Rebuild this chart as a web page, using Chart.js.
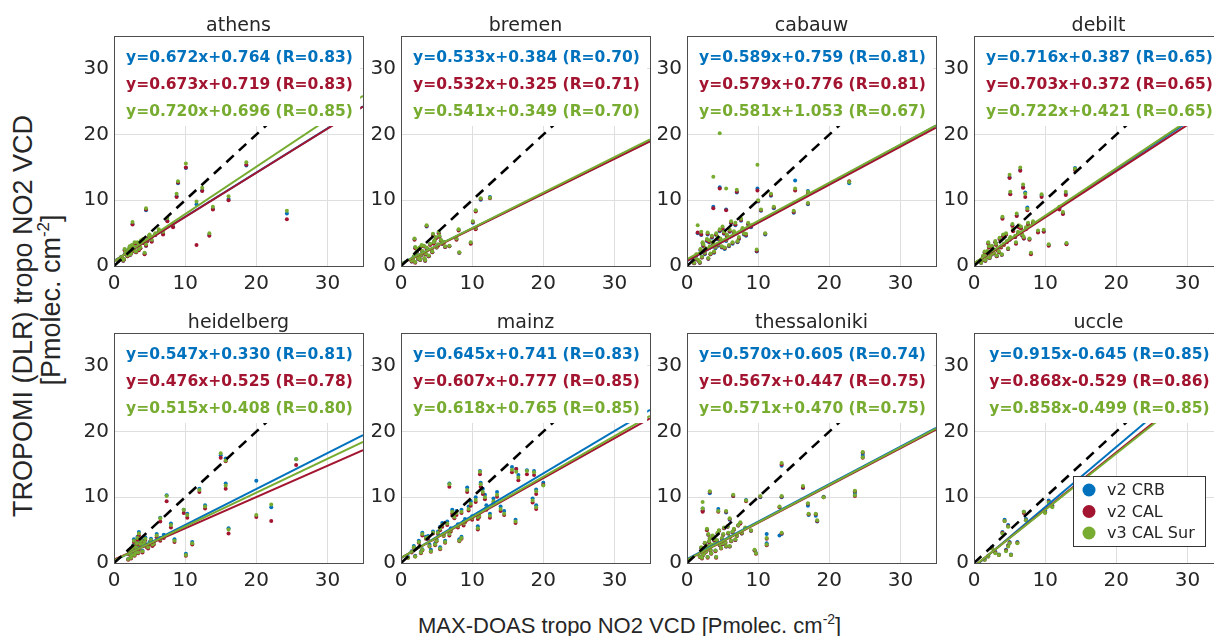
<!DOCTYPE html>
<html>
<head>
<meta charset="utf-8">
<script src="https://cdn.jsdelivr.net/npm/chart.js@4.4.0/dist/chart.umd.min.js"></script>
<style>
body { margin:0; width:1214px; height:636px; overflow:hidden; background:#fff; position:relative; }
canvas { position:absolute; }
.lab { position:absolute; font-family:"Liberation Sans", Arial, sans-serif; font-size:22px; color:#262626; white-space:nowrap; line-height:1; }
.lab sup { font-size:14px; vertical-align:9px; }
.big { font-size:27px; }
.big sup { font-size:17px; vertical-align:11px; }
.rot { transform:translate(-50%,-50%) rotate(-90deg); }
</style>
</head>
<body>
<div class="lab big rot" style="left:23px;top:316px">TROPOMI (DLR) tropo NO2 VCD</div>
<div class="lab big rot" style="left:50px;top:300px">[Pmolec. cm<sup>-2</sup>]</div>
<div class="lab" style="left:418px;top:612px">MAX-DOAS tropo NO2 VCD [Pmolec. cm<sup>-2</sup>]</div>
<script>
// stations and series
var stations = ['athens','bremen','cabauw','debilt','heidelberg','mainz','thessaloniki','uccle'];
var seriesNames = ['v2 CRB','v2 CAL','v3 CAL Sur'];
var seriesColors = ['#0072BD','#A2142F','#77AC30'];
var tickVals = [0,10,20,30];
var axisMax = 35;

// regression fits
var slopeCrb = [0.672,0.533,0.589,0.716,0.547,0.645,0.570,0.915];
var icptCrb  = [0.764,0.384,0.759,0.387,0.330,0.741,0.605,-0.645];
var rCrb     = [0.83,0.70,0.81,0.65,0.81,0.83,0.74,0.85];
var slopeCal = [0.673,0.532,0.579,0.703,0.476,0.607,0.567,0.868];
var icptCal  = [0.719,0.325,0.776,0.372,0.525,0.777,0.447,-0.529];
var rCal     = [0.83,0.71,0.81,0.65,0.78,0.85,0.75,0.86];
var slopeSur = [0.720,0.541,0.581,0.722,0.515,0.618,0.571,0.858];
var icptSur  = [0.696,0.349,1.053,0.421,0.408,0.765,0.470,-0.499];
var rSur     = [0.85,0.70,0.67,0.65,0.80,0.85,0.75,0.85];

// MAX-DOAS values (x) per station
var ptsX = [
 [0.6,1.0,1.3,1.6,1.9,2.1,2.4,2.7,3.0,3.3,3.7,4.1,4.5,4.9,5.3,5.8,6.3,6.9,7.5,8.3,8.8,9.0,10.1,11.6,12.4,13.4,13.9,16.1,18.6,24.3,2.6,4.5,4.3,2.2,
  1.1,1.4,1.7,2.0,2.3,2.5,2.8,3.1,3.4,3.8,4.2,4.7,5.0,1.5,2.9,3.5],
 [1.5,1.8,2.0,2.2,2.4,2.6,2.8,3.0,3.2,3.5,3.8,4.1,4.4,4.7,5.0,5.4,5.8,6.2,6.8,7.8,8.1,8.2,9.8,10.1,10.5,10.5,11.2,12.5,3.6,1.9,5.3,2.7,
  1.7,2.1,2.3,2.5,2.9,3.1,3.3,3.6,3.9,4.3,4.6,4.9,5.2,5.6,6.0,2.0,3.4,4.5],
 [1.0,1.3,1.6,1.9,2.1,2.3,2.5,2.8,3.0,3.2,3.5,3.8,4.1,4.4,4.7,5.0,5.3,5.6,6.0,6.4,6.8,7.3,7.8,8.3,9.0,9.8,10.0,10.4,11.0,11.8,12.2,15.0,15.2,17.0,17.0,22.8,4.6,3.7,9.9,7.0,5.5,1.5,
  1.2,1.8,2.2,2.6,2.9,3.3,3.6,4.0,4.3,4.6,4.9,5.2,5.5,5.9,6.2,6.6,7.1,7.6,8.0,8.6,2.0,3.1],
 [1.0,1.3,1.6,1.9,2.2,2.5,2.8,3.0,3.3,3.6,3.9,4.2,4.5,4.8,5.1,5.5,5.9,6.3,6.8,7.3,7.8,8.3,9.0,6.5,5.0,6.9,5.1,7.2,14.2,9.5,12.9,12.0,12.5,13.0,10.5,9.8,8.0,4.0,7.5,6.0,
  1.2,1.5,1.8,2.1,2.4,2.7,3.1,3.5,3.8,4.1,4.6,5.0,5.4,5.8,6.2,6.6,7.0,7.6,2.0,3.2],
 [2.0,2.3,2.5,2.7,3.0,3.2,3.5,3.8,4.1,4.4,4.8,5.2,5.6,6.0,6.5,7.0,8.0,8.5,9.8,10.1,11.0,12.0,12.8,15.0,15.7,15.7,20.0,22.1,25.6,16.1,7.4,10.3,3.5,6.5,
  2.1,2.4,2.6,2.9,3.1,3.4,3.7,4.0,4.3,4.6,5.0,5.4,2.8,3.3],
 [1.0,1.5,2.0,2.5,3.0,3.5,4.0,4.5,5.0,5.5,6.0,6.5,7.0,7.5,8.0,8.5,9.0,9.5,10.0,10.5,11.0,11.5,12.0,13.0,14.0,14.5,15.6,16.2,17.7,18.7,16.5,20.0,19.0,18.5,19.0,16.1,6.8,11.1,11.2,9.3,5.5,3.0,8.5,10.8,
  1.8,2.8,3.8,4.8,5.8,6.8,7.8,8.8,9.8,10.8,11.8,4.2,5.2,6.2,7.2,8.2,12.5,13.5],
 [1.8,2.0,2.3,2.5,2.7,3.0,3.2,3.4,3.6,3.9,4.2,4.5,4.8,5.1,5.4,5.7,6.0,6.4,6.8,7.2,7.7,8.2,9.0,9.7,24.7,24.7,23.6,23.6,19.2,16.3,17.0,17.1,18.1,18.3,13.3,13.3,13.0,10.3,11.2,11.2,13.3,3.2,2.2,2.2,4.4,6.5,8.3,5.5,6.0,9.5,
  2.1,2.4,2.6,2.9,3.1,3.3,3.5,3.8,4.0,4.3,4.6,4.9,5.2,5.5,5.8,6.2,6.6,7.0,7.5,3.0,4.1,5.0,6.0,2.8],
 [1.5,2.0,2.5,3.0,3.5,4.0,4.3,4.5,4.8,4.8,5.0,5.2,6.1,7.0,7.3,10.0,10.5,11.0]
];
// TROPOMI v2 CRB
var ptsCrb = [
 [0.8,1.3,0.8,1.9,1.5,2.4,1.9,2.8,2.2,3.4,2.7,3.9,3.1,4.4,3.8,4.7,5.3,4.9,6.9,6.0,10.6,12.6,14.9,9.4,11.5,4.7,8.7,10.2,15.3,8.0,6.4,8.5,1.9,2.8,
  1.2,1.0,1.8,2.3,1.7,3.0,2.4,2.1,2.9,3.7,3.5,3.8,4.6,2.5,3.4,2.5],
 [0.7,1.4,0.6,2.1,1.1,2.7,1.6,2.2,3.0,1.8,2.5,3.3,2.1,3.8,2.8,4.5,3.4,2.9,3.0,4.1,5.5,2.0,3.5,6.6,5.7,8.4,10.1,10.5,6.0,4.1,5.1,0.9,
  0.9,1.7,2.5,1.3,3.1,1.9,1.1,2.7,1.5,2.4,3.5,4.3,3.2,3.9,3.6,2.8,0.8,4.8],
 [0.4,1.6,0.8,2.4,1.3,3.0,1.8,3.8,1.1,2.8,4.3,2.0,4.7,3.1,4.0,5.6,2.6,4.5,5.2,3.4,6.2,4.1,5.5,4.6,5.9,2.2,9.8,8.4,4.8,10.7,8.8,8.1,13.0,11.4,9.4,12.6,12.0,9.0,11.8,11.2,8.6,5.0,
  1.1,0.5,3.4,2.5,4.8,1.8,3.4,2.7,4.1,5.3,2.8,4.9,3.8,3.0,6.5,5.0,3.6,6.9,4.8,6.3,4.7,3.6],
 [0.5,1.5,0.8,2.2,1.2,3.0,1.9,3.6,2.5,4.1,1.7,3.3,4.8,2.6,4.2,5.4,3.5,6.0,4.6,5.7,4.1,6.6,5.2,14.6,13.5,12.0,11.0,11.2,14.9,10.7,11.0,8.8,8.0,3.4,3.2,5.3,1.9,7.3,8.9,7.7,
  0.9,2.1,1.3,2.9,1.7,2.5,3.3,2.1,2.9,4.6,3.7,4.0,6.2,4.4,5.0,5.8,4.2,6.4,3.5,1.5],
 [0.6,1.9,1.3,2.7,1.7,3.1,2.3,3.6,2.9,3.9,2.5,3.7,3.2,4.4,3.8,4.3,6.0,3.6,8.1,1.4,3.2,11.3,8.8,16.4,15.9,12.1,12.5,8.5,15.8,5.3,10.3,7.5,4.7,6.9,
  1.5,0.9,2.1,1.3,2.5,1.7,3.0,1.9,3.4,2.8,3.2,3.0,3.6,4.0],
 [0.9,1.8,1.1,3.4,2.1,4.0,2.8,4.8,3.6,5.5,4.4,6.3,5.3,7.3,5.9,8.1,6.7,8.6,7.1,10.0,7.6,11.3,8.8,9.8,8.6,7.9,14.6,14.3,14.1,14.0,13.4,12.2,11.2,9.8,8.8,6.6,12.1,14.0,12.2,11.5,2.4,4.6,4.0,5.6,
  2.6,1.7,4.1,3.0,6.1,4.6,7.9,6.3,9.4,7.3,10.4,2.0,4.8,3.4,8.1,3.6,7.5,10.8],
 [1.0,2.3,1.3,3.0,1.8,2.6,3.7,1.5,4.1,2.9,3.4,4.9,2.3,4.3,3.1,5.5,3.9,4.7,3.5,5.7,4.5,5.3,4.9,1.5,16.6,16.3,10.5,10.8,10.1,11.4,8.7,7.3,7.2,6.3,14.8,10.0,4.2,10.0,4.4,3.0,4.4,10.6,8.3,7.9,8.2,10.2,9.6,7.7,6.6,1.9,
  0.8,1.6,2.1,0.9,3.2,2.0,2.7,3.5,1.9,4.5,2.7,3.7,5.3,2.5,4.5,3.3,5.1,4.1,6.1,4.3,0.9,2.9,2.5,5.1],
 [0.6,1.1,2.4,1.7,1.3,4.7,6.6,2.0,5.8,2.7,3.2,1.3,3.2,7.8,6.7,8.0,9.5,8.8]
];
// TROPOMI v2 CAL
var ptsCal = [
 [0.8,1.3,0.8,1.9,1.5,2.4,1.9,2.8,2.2,3.4,2.7,3.8,3.1,4.3,3.7,4.7,5.2,4.8,6.8,5.9,10.5,12.7,15.0,3.2,11.4,4.6,8.6,10.0,15.4,7.1,6.3,8.6,1.8,2.7,
  1.2,1.0,1.8,2.2,1.7,3.0,2.3,2.1,2.9,3.6,3.5,3.8,4.5,2.4,3.4,2.4],
 [0.7,1.4,0.5,2.1,1.1,2.6,1.6,2.2,3.0,1.8,2.5,3.2,2.1,3.7,2.8,4.4,3.4,2.9,3.0,4.0,5.4,2.0,3.4,6.7,5.6,8.3,10.2,10.3,6.1,4.0,5.0,0.9,
  0.9,1.7,2.4,1.3,3.0,1.9,1.1,2.6,1.5,2.4,3.4,4.2,3.1,3.8,3.5,2.7,0.8,4.7],
 [0.4,1.6,0.8,2.5,1.3,3.1,1.9,3.9,1.1,2.9,4.4,2.1,4.8,3.2,4.0,5.7,2.7,4.6,5.3,3.5,6.3,4.2,5.6,4.7,6.0,2.3,9.9,8.5,4.9,10.8,8.9,8.2,11.5,11.1,9.5,12.9,11.8,8.8,11.5,11.3,8.5,5.1,
  1.1,0.5,3.5,2.6,4.9,1.8,3.5,2.8,4.2,5.4,2.9,5.0,3.9,3.1,6.6,5.1,3.7,7.0,4.9,6.4,4.8,3.7],
 [0.5,1.5,0.8,2.2,1.2,2.9,1.9,3.6,2.4,4.1,1.7,3.2,4.8,2.6,4.2,5.3,3.4,5.9,4.6,5.6,4.0,6.5,5.1,14.5,13.4,11.9,10.9,10.5,14.6,10.5,10.8,8.6,7.9,3.3,3.1,5.2,1.8,7.2,8.5,7.6,
  0.9,2.0,1.3,2.8,1.7,2.4,3.2,2.1,2.8,4.5,3.6,4.0,6.1,4.4,4.9,5.7,4.2,6.3,3.4,1.5],
 [0.5,1.6,1.1,2.4,1.5,2.8,2.0,3.2,2.6,3.5,2.2,3.3,2.8,3.9,3.4,3.8,5.4,3.2,7.6,1.1,2.8,10.8,8.3,16.0,15.5,11.3,7.0,6.4,14.9,4.5,9.4,6.9,4.2,6.3,
  1.3,0.7,1.8,1.1,2.2,1.5,2.7,1.6,3.0,2.4,2.8,2.6,3.2,3.5],
 [0.8,1.6,1.0,3.1,1.9,3.7,2.5,4.5,3.3,5.0,4.1,5.8,4.8,6.8,5.4,7.6,6.2,8.0,6.6,9.3,7.0,10.5,8.1,9.1,7.9,7.3,13.8,14.3,13.5,13.4,12.6,11.9,10.5,9.2,8.2,6.1,11.6,13.5,11.6,10.8,2.1,4.2,3.7,5.1,
  2.3,1.5,3.7,2.7,5.5,4.2,7.3,5.7,8.7,6.7,9.7,1.7,4.4,3.1,7.5,3.3,6.9,10.1],
 [0.9,2.3,1.2,3.0,1.7,2.5,3.7,1.4,4.1,2.8,3.4,4.9,2.2,4.3,3.1,5.5,3.9,4.7,3.5,5.7,4.5,5.3,4.9,1.4,16.8,16.0,10.2,10.9,10.0,11.5,9.0,7.4,7.4,6.4,15.0,10.1,8.5,10.1,3.7,2.7,4.5,10.8,8.0,7.8,7.8,10.2,9.4,7.8,6.7,1.9,
  0.7,1.5,2.1,0.8,3.2,1.9,2.7,3.5,1.8,4.5,2.7,3.7,5.3,2.5,4.5,3.3,5.1,4.1,6.0,4.3,0.8,2.9,2.5,5.0],
 [0.5,1.0,2.3,1.6,1.2,4.6,6.4,1.9,5.6,2.6,3.1,1.2,3.1,7.6,6.5,7.7,9.3,8.6]
];
// TROPOMI v3 CAL Sur
var ptsSur = [
 [0.9,1.4,0.9,2.0,1.6,2.6,2.0,3.0,2.3,3.6,2.9,4.1,3.3,4.6,4.0,5.0,5.6,5.2,7.3,6.4,11.0,12.9,15.6,9.8,11.9,5.0,9.0,10.6,15.8,8.4,6.7,8.8,2.0,3.0,
  1.3,1.1,1.9,2.4,1.8,3.2,2.5,2.2,3.1,3.9,3.7,4.0,4.8,2.6,3.6,2.6],
 [0.8,1.5,0.6,2.2,1.2,2.8,1.7,2.3,3.1,1.9,2.6,3.4,2.2,3.9,2.9,4.6,3.5,3.0,3.1,4.2,5.6,2.1,3.6,6.8,5.8,8.5,10.3,10.4,6.2,4.2,5.2,1.0,
  1.0,1.8,2.6,1.4,3.2,2.0,1.2,2.8,1.6,2.5,3.6,4.4,3.3,4.0,3.7,2.9,0.9,4.9],
 [0.5,1.8,0.9,2.6,1.4,3.3,2.0,4.1,1.2,3.0,4.6,2.2,5.0,3.3,4.2,6.0,2.8,4.8,5.5,3.6,6.6,4.4,5.8,4.9,6.2,2.5,10.0,8.6,5.0,11.0,9.0,8.4,11.8,11.3,9.6,12.8,20.2,13.6,15.4,11.6,11.8,6.2,
  1.2,0.6,3.6,2.7,5.1,1.9,3.6,2.9,4.4,5.6,3.0,5.2,4.0,3.2,6.8,5.3,3.8,7.2,5.0,6.6,5.2,3.9],
 [0.5,1.6,0.9,2.3,1.3,3.1,2.0,3.8,2.6,4.3,1.8,3.4,5.0,2.7,4.4,5.6,3.6,6.2,4.8,5.9,4.2,6.8,5.4,15.0,13.9,12.4,11.3,11.0,14.8,10.9,11.3,9.0,8.2,3.5,3.3,5.5,2.0,7.5,8.7,8.0,
  1.0,2.2,1.4,3.0,1.8,2.6,3.4,2.2,3.0,4.8,3.8,4.2,6.4,4.6,5.2,6.0,4.4,6.6,3.6,1.6],
 [0.6,1.8,1.2,2.6,1.6,3.0,2.2,3.4,2.8,3.7,2.4,3.5,3.0,4.2,3.6,4.0,5.8,3.4,8.1,1.2,3.0,11.1,8.6,16.7,15.6,11.8,7.3,8.9,15.8,5.1,10.2,7.3,4.5,6.8,
  1.4,0.8,2.0,1.2,2.4,1.6,2.9,1.8,3.2,2.6,3.0,2.8,3.4,3.8],
 [0.8,1.7,1.0,3.2,2.0,3.8,2.6,4.6,3.4,5.2,4.2,6.0,5.0,7.0,5.6,7.8,6.4,8.2,6.8,9.6,7.2,10.8,8.4,9.4,8.2,7.5,14.2,13.9,14.0,13.8,13.0,11.8,10.9,9.5,8.5,6.3,12.0,13.9,12.0,11.1,2.2,4.4,3.8,5.3,
  2.4,1.6,3.9,2.8,5.8,4.4,7.6,6.0,9.0,7.0,10.0,1.8,4.6,3.2,7.8,3.4,7.2,10.4],
 [1.0,2.4,1.3,3.1,1.8,2.6,3.8,1.5,4.2,2.9,3.5,5.0,2.3,4.4,3.2,5.6,4.0,4.8,3.6,5.8,4.6,5.4,5.0,1.5,16.9,16.1,10.3,11.0,10.0,11.7,9.1,7.5,7.5,6.5,15.2,10.2,8.6,10.2,3.8,2.8,4.6,10.9,9.3,8.3,7.9,10.4,9.5,7.9,6.8,2.0,
  0.8,1.6,2.2,0.9,3.3,2.0,2.8,3.6,1.9,4.6,2.8,3.8,5.4,2.6,4.6,3.4,5.2,4.2,6.2,4.4,0.9,3.0,2.6,5.2],
 [0.5,1.0,2.2,1.5,1.2,4.5,6.4,1.8,5.5,2.5,3.0,1.2,3.0,7.8,6.5,7.6,9.2,8.5]
];

// layout of the 2x4 grid (plot area in page pixels)
var colLeft = [114,401,687,974];
var rowTop = [36,333];
var plotW = 249, plotH = 230;
var padL = 44, padT = 34, padR = 6, padB = 32;
var textRows = [26,53,80];
var maskBottom = 21.3, maskRight = 34.6;

Chart.defaults.font.family = '"DejaVu Sans", Verdana, sans-serif';
Chart.defaults.color = '#262626';

function fitLabel(a, b, r){
	return 'y=' + a.toFixed(3) + 'x' + (b >= 0 ? '+' : '') + b.toFixed(3) + ' (R=' + r.toFixed(2) + ')';
}

var panelPlugin = {
	id: 'panel',
	afterDatasetsDraw: function(chart, args, opts){
		var ctx = chart.ctx, a = chart.chartArea;
		var xs = chart.scales.x, ys = chart.scales.y;
		var i = opts.idx;
		ctx.save();
		// white box behind the fit equations
		ctx.fillStyle = '#fff';
		var yb = ys.getPixelForValue(maskBottom);
		ctx.fillRect(a.left + 1, a.top + 1, xs.getPixelForValue(maskRight) - a.left - 1, yb - a.top - 1);
		ctx.font = 'bold 15.5px "DejaVu Sans"';
		ctx.textAlign = 'center';
		ctx.textBaseline = 'alphabetic';
		var cx = (a.left + a.right) / 2 + 1;
		var lines = [fitLabel(slopeCrb[i], icptCrb[i], rCrb[i]),
		             fitLabel(slopeCal[i], icptCal[i], rCal[i]),
		             fitLabel(slopeSur[i], icptSur[i], rSur[i])];
		for (var k = 0; k < 3; k++){
			ctx.fillStyle = seriesColors[k];
			ctx.fillText(lines[k], cx, a.top + textRows[k]);
		}
		ctx.restore();
	},
	afterDraw: function(chart, args, opts){
		var ctx = chart.ctx, a = chart.chartArea;
		ctx.save();
		ctx.strokeStyle = '#4d4d4d';
		ctx.lineWidth = 1;
		ctx.strokeRect(Math.round(a.left) + 0.5, Math.round(a.top) + 0.5, Math.round(a.right - a.left), Math.round(a.bottom - a.top));
		ctx.fillStyle = '#262626';
		ctx.font = '19px "DejaVu Sans"';
		ctx.textAlign = 'center';
		ctx.textBaseline = 'alphabetic';
		ctx.fillText(stations[opts.idx], (a.left + a.right) / 2, a.top - 5);
		if (opts.legend){
			var lx = a.left + 99, ly = a.top + 143;
			ctx.fillStyle = '#fff';
			ctx.fillRect(lx, ly, 132, 70);
			ctx.strokeStyle = '#333';
			ctx.strokeRect(lx + 0.5, ly + 0.5, 132, 70);
			ctx.font = '16px "DejaVu Sans"';
			ctx.textAlign = 'left';
			ctx.textBaseline = 'middle';
			for (var k = 0; k < 3; k++){
				var yy = ly + 14 + k * 21.5;
				ctx.fillStyle = seriesColors[k];
				ctx.beginPath();
				ctx.arc(lx + 16, yy, 6.5, 0, Math.PI * 2);
				ctx.fill();
				ctx.fillStyle = '#262626';
				ctx.fillText(seriesNames[k], lx + 34, yy + 1);
			}
		}
		ctx.restore();
	}
};

function makeAxis(w, h){
	return {
		type: 'linear', min: 0, max: axisMax,
		afterBuildTicks: function(s){ s.ticks = tickVals.map(function(v){ return {value: v}; }); },
		afterFit: function(s){ if (w) s.width = w; if (h) s.height = h; },
		grid: { color: '#dedede', drawTicks: false },
		border: { display: false },
		ticks: { font: { size: 20 }, padding: w ? 5 : 6, color: '#262626' }
	};
}

function pointSet(xs, ys, col, ord){
	return { type: 'scatter', data: xs.map(function(x, k){ return {x: x, y: ys[k]}; }),
		backgroundColor: col, borderWidth: 0, pointRadius: 2, clip: 0, order: ord };
}
function lineSet(a, b, col, ord){
	return { type: 'line', data: [{x: 0, y: b}, {x: axisMax, y: a * axisMax + b}],
		borderColor: col, borderWidth: 2, pointRadius: 0, showLine: true, clip: 0, order: ord, tension: 0 };
}

for (let i = 0; i < stations.length; i++){
	var col = i % 4, row = Math.floor(i / 4);
	var cv = document.createElement('canvas');
	var cw = padL + plotW + padR, ch = padT + plotH + padB;
	cv.width = cw; cv.height = ch;
	cv.style.left = (colLeft[col] - padL) + 'px';
	cv.style.top = (rowTop[row] - padT) + 'px';
	cv.style.width = cw + 'px'; cv.style.height = ch + 'px';
	document.body.appendChild(cv);

	var datasets = [
		pointSet(ptsX[i], ptsCrb[i], seriesColors[0], 7),
		pointSet(ptsX[i], ptsCal[i], seriesColors[1], 6),
		pointSet(ptsX[i], ptsSur[i], seriesColors[2], 5),
		lineSet(slopeCrb[i], icptCrb[i], seriesColors[0], 4),
		lineSet(slopeCal[i], icptCal[i], seriesColors[1], 3),
		lineSet(slopeSur[i], icptSur[i], seriesColors[2], 2),
		{ type: 'line', data: [{x: 0, y: 0}, {x: axisMax, y: axisMax}], borderColor: '#000', borderWidth: 2.6,
		  borderDash: [10, 7], pointRadius: 0, showLine: true, clip: 0, order: 1 }
	];

	new Chart(cv, {
		type: 'scatter',
		data: { datasets: datasets },
		options: {
			responsive: false,
			animation: false,
			layout: { padding: { top: padT, right: padR, left: 0, bottom: 0 } },
			scales: { x: makeAxis(0, padB), y: makeAxis(padL, 0) },
			plugins: {
				legend: { display: false },
				tooltip: { enabled: false },
				panel: { idx: i, legend: i == 7 }
			}
		},
		plugins: [panelPlugin]
	});
}
</script>
</body>
</html>
